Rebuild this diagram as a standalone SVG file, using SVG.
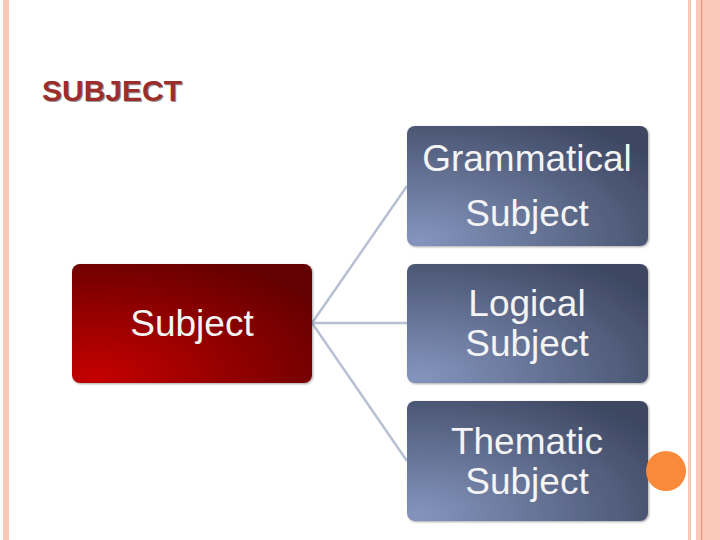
<svg xmlns="http://www.w3.org/2000/svg" width="720" height="540" viewBox="0 0 720 540">
<defs>
<radialGradient id="red" cx="0.1" cy="0.95" r="1.1"><stop offset="0" stop-color="#c40404"/><stop offset="1" stop-color="#640000"/></radialGradient>
<radialGradient id="blue" cx="0.05" cy="0.95" r="1.2"><stop offset="0" stop-color="#8494bd"/><stop offset="1" stop-color="#3c4660"/></radialGradient>
<filter id="sh" x="-10%" y="-10%" width="130%" height="130%"><feDropShadow dx="1" dy="1" stdDeviation="1" flood-opacity="0.35"/></filter>
<style>
.t{font-family:"Liberation Sans",Arial,sans-serif;font-size:37px;fill:#f4f4f4;text-anchor:middle}
.c{stroke:#b8c0d4;stroke-width:2.5;fill:none}
</style>
</defs>
<rect width="720" height="540" fill="#ffffff"/>
<rect x="3" y="0" width="6" height="540" fill="#f9c8b6"/>
<rect x="688" y="0" width="3" height="540" fill="#f9c8b6"/>
<rect x="696" y="0" width="24" height="540" fill="#f9c8b6"/>
<rect x="701" y="0" width="1.2" height="540" fill="#e8987c"/>
<text x="43" y="102" font-family="'Liberation Sans',Arial,sans-serif" font-weight="bold" font-size="30" fill="#9b9b9b" textLength="140">SUBJECT</text>
<text x="42" y="101" font-family="'Liberation Sans',Arial,sans-serif" font-weight="bold" font-size="30" fill="#9b2d2a" textLength="140">SUBJECT</text>
<g id="connectors">
<path class="c" d="M312,323 L407,186"/>
<path class="c" d="M312,323 L407,323"/>
<path class="c" d="M312,323 L407,461"/>
</g>
<g id="subject"><rect x="72" y="264" width="240" height="119" rx="8" fill="url(#red)" filter="url(#sh)"/><text class="t" x="192" y="336">Subject</text></g>
<g id="grammatical"><rect x="407" y="126" width="241" height="120" rx="8" fill="url(#blue)" filter="url(#sh)"/><text class="t" x="527" y="171">Grammatical</text><text class="t" x="527" y="226">Subject</text></g>
<g id="logical"><rect x="407" y="264" width="241" height="119" rx="8" fill="url(#blue)" filter="url(#sh)"/><text class="t" x="527" y="316">Logical</text><text class="t" x="527" y="356">Subject</text></g>
<g id="thematic"><rect x="407" y="401" width="241" height="120" rx="8" fill="url(#blue)" filter="url(#sh)"/><text class="t" x="527" y="454">Thematic</text><text class="t" x="527" y="494">Subject</text></g>
<circle cx="666" cy="471" r="20" fill="#f98a3a"/>
</svg>
